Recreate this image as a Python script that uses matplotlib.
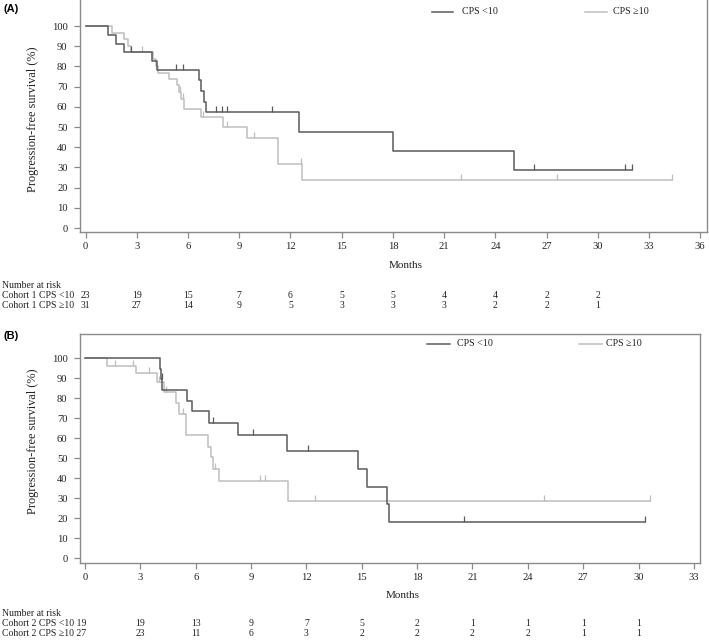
import numpy as np
import matplotlib
matplotlib.use('Agg')
import matplotlib.pyplot as plt
from matplotlib.lines import Line2D
from matplotlib.transforms import blended_transform_factory

plt.rcParams['font.family'] = ['Liberation Serif', 'DejaVu Serif']

# ---- data ----
# (A) Cohort 1
a_lo_t = [0, 1.33, 1.78, 2.27, 3.9, 4.16, 6.62, 6.76, 6.93, 7.03, 12.52, 18.02, 25.1, 31.98]
a_lo_s = [100, 95.7, 91.3, 87.0, 82.6, 78.3, 73.1, 67.9, 62.6, 57.4, 47.8, 38.3, 28.7, 28.7]
a_lo_cens = [2.64, 5.29, 5.72, 7.64, 8.0, 8.3, 10.9, 26.28, 31.6, 31.98]
a_hi_t = [0, 1.56, 2.27, 2.48, 2.68, 3.95, 4.1, 4.22, 4.88, 5.33, 5.45, 5.6, 5.78,
          6.76, 8.05, 9.43, 11.28, 12.65, 34.37]
a_hi_s = [100, 96.8, 93.5, 90.3, 87.1, 83.7, 80.4, 77.0, 73.8, 70.6, 67.4, 64.0, 59.0,
          55.1, 49.9, 44.5, 31.8, 23.9, 23.9]
a_hi_cens = [3.28, 5.5, 5.7, 6.85, 8.3, 9.86, 12.6, 21.97, 27.63, 34.37]

# (B) Cohort 2
b_lo_t = [0, 4.08, 4.13, 4.2, 5.55, 5.78, 6.72, 8.31, 10.96, 14.82, 15.3, 16.35, 16.45, 30.37]
b_lo_s = [100, 94.7, 89.5, 84.2, 78.9, 73.7, 67.5, 61.6, 53.8, 44.8, 35.9, 27.0, 18.0, 18.0]
b_lo_cens = [4.18, 6.95, 9.12, 12.1, 20.54, 30.37]
b_hi_t = [0, 1.22, 2.75, 3.89, 4.3, 4.95, 5.1, 5.46, 6.69, 6.83, 6.95, 7.27, 11.02, 30.63]
b_hi_s = [100, 96.3, 92.5, 88.3, 83.0, 77.8, 72.3, 61.5, 55.9, 50.8, 44.9, 38.5, 28.9, 28.9]
b_hi_cens = [1.63, 2.6, 3.48, 4.0, 4.4, 5.3, 7.06, 9.5, 9.78, 12.48, 24.88, 30.63]

# number at risk
a_risk_t = [0, 3, 6, 9, 12, 15, 18, 21, 24, 27, 30]
a_risk_lo = [23, 19, 15, 7, 6, 5, 5, 4, 4, 2, 2]
a_risk_hi = [31, 27, 14, 9, 5, 3, 3, 3, 2, 2, 1]
b_risk_start = [19, 27]   # printed right after the row labels
b_risk_t = [3, 6, 9, 12, 15, 18, 21, 24, 27, 30]
b_risk_lo = [19, 13, 9, 7, 5, 2, 1, 1, 1, 1]
b_risk_hi = [23, 11, 6, 3, 2, 2, 2, 2, 1, 1]

labels = ['CPS <10', 'CPS \u226510']
DARK = '#5a5a5a'
LIGHT = '#bebebe'
SPINE = '#8a8a8a'
TXT = '#222222'
W, H = 709, 640

fig = plt.figure(figsize=(W / 100, H / 100), dpi=100)


def fx(x):
    return x / W


def fy(y):
    return 1 - y / H


def km(ax, t, s, cens, color):
    ax.step(t, s, where='post', color=color, lw=1.1)
    idx = np.searchsorted(t, cens, side='right') - 1
    ax.plot(cens, np.array(s)[idx], ls='none', marker=2, ms=4, mew=0.9, color=color)


def setup(ax, xmax, xlim, ylim, ylab_y):
    ax.set_xlim(*xlim)
    ax.set_ylim(*ylim)
    ax.set_xticks(np.arange(0, xmax + 1, 3))
    ax.set_yticks(np.arange(0, 101, 10))
    ax.tick_params(direction='out', length=4, width=0.9, color=SPINE,
                   labelsize=7.6, labelcolor=TXT)
    ax.tick_params(axis='x', pad=3.5)
    ax.tick_params(axis='y', pad=5)
    for sp in ax.spines.values():
        sp.set_color(SPINE)
        sp.set_linewidth(1.0)
    ax.set_ylabel('Progression-free survival (%)', fontsize=8.8, color=TXT)
    ax.yaxis.set_label_coords((33 - 80) / (ax.get_position().width * W), ylab_y)
    ax.yaxis.label.set_va('center')


def legend(y, x_pairs):
    for (x0, x1, xt), lab, col in zip(x_pairs, labels, [DARK, LIGHT]):
        fig.add_artist(Line2D([fx(x0), fx(x1)], [fy(y), fy(y)], transform=fig.transFigure,
                              color=col, lw=1.1))
        fig.text(fx(xt), fy(y), lab, fontsize=7.2, va='center', ha='left', color=TXT)


def risk_table(ax, y0, dy, row_labels, times, lo, hi):
    tr = blended_transform_factory(ax.transData, fig.transFigure)
    fig.text(fx(2), fy(y0), 'Number at risk', fontsize=7, va='center', color=TXT)
    for k, (lab, vals) in enumerate(zip(row_labels, [lo, hi])):
        yy = fy(y0 + dy * (k + 1))
        fig.text(fx(2), yy, lab, fontsize=7, va='center', color=TXT)
        for t, n in zip(times, vals):
            ax.text(t, yy, str(n), transform=tr, fontsize=7, ha='center', va='center',
                    color=TXT)


# ---- panel A ----
axA = fig.add_axes([fx(80), fy(231.7), (706.7 - 80) / W, 231.7 / H])
km(axA, a_hi_t, a_hi_s, a_hi_cens, LIGHT)
km(axA, a_lo_t, a_lo_s, a_lo_cens, DARK)
setup(axA, 36, (-0.33, 36.38), (-1.8, 112.9), 0.484)
axA.spines['top'].set_visible(False)
axA.set_xlabel('Months', fontsize=8, color=TXT)
axA.xaxis.set_label_coords(0.52, (231.7 - 265) / 231.7)
axA.xaxis.label.set_va('center')
legend(12, [(431.7, 453, 461.7), (585, 606.7, 612.7)])
fig.text(fx(4), fy(9), '(A)', fontsize=8, fontweight='bold', family='Liberation Sans',
         va='center', ha='left')
risk_table(axA, 285, 10, ['Cohort 1 CPS <10', 'Cohort 1 CPS \u226510'],
           a_risk_t, a_risk_lo, a_risk_hi)

# ---- panel B ----
axB = fig.add_axes([fx(80), fy(562.7), (700 - 80) / W, (562.7 - 333.5) / H])
km(axB, b_hi_t, b_hi_s, b_hi_cens, LIGHT)
km(axB, b_lo_t, b_lo_s, b_lo_cens, DARK)
setup(axB, 33, (-0.27, 33.33), (-2.2, 112.4), 0.532)
axB.set_xlabel('Months', fontsize=8, color=TXT)
axB.xaxis.set_label_coords(0.52, (562.7 - 596) / (562.7 - 333.5))
axB.xaxis.label.set_va('center')
legend(344, [(427, 450, 457), (579, 602, 606)])
fig.text(fx(4), fy(336), '(B)', fontsize=8, fontweight='bold', family='Liberation Sans',
         va='center', ha='left')
risk_table(axB, 613, 10,
           ['Cohort 2 CPS <10 %d' % b_risk_start[0], 'Cohort 2 CPS \u226510 %d' % b_risk_start[1]],
           b_risk_t, b_risk_lo, b_risk_hi)

fig.savefig('out.png', dpi=100)
